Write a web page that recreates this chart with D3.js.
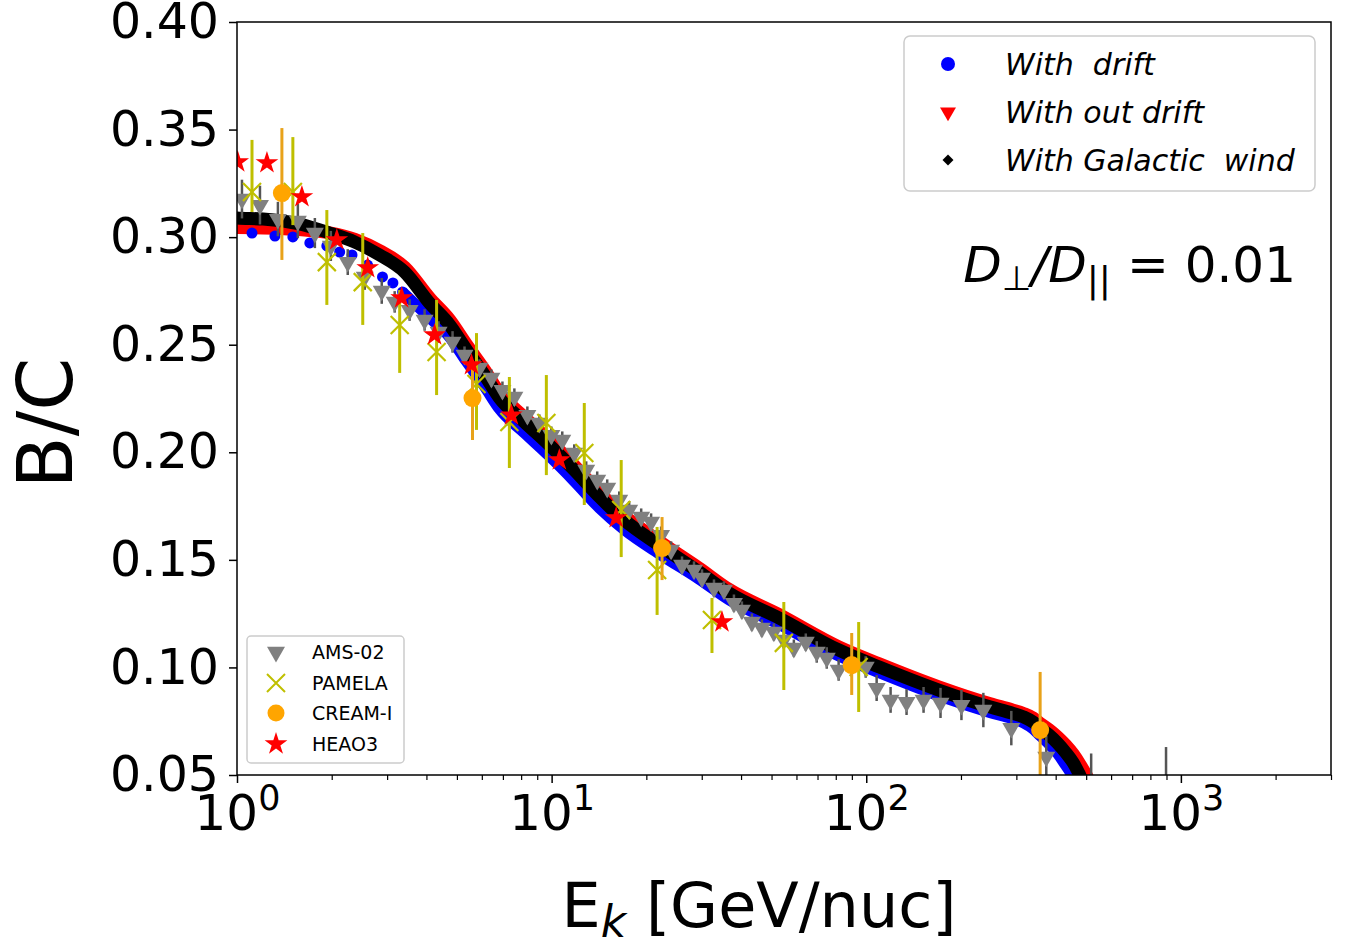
<!DOCTYPE html>
<html>
<head>
<meta charset="utf-8">
<script src="https://cdn.jsdelivr.net/npm/d3@7"></script>
<style>
  body { margin: 0; background: #fff; }
  text { font-family: "DejaVu Sans", sans-serif; }
</style>
</head>
<body>
<div id="chart"></div>
<script>
  // ---- model curves ----
  var blackE = [0.98, 1.0, 1.21, 1.58, 1.97, 2.37, 2.84, 3.41, 4.09, 4.74, 5.37, 6.12, 6.83, 8.19, 9.83, 11.8, 14.2, 17.0, 22.4, 29.4, 36.6, 52.8, 81.8, 110, 170, 248, 290, 316, 340, 357, 380, 405, 430, 455, 475, 495];
  var blackV = [0.3090, 0.3089, 0.3084, 0.3061, 0.3019, 0.2977, 0.2917, 0.2838, 0.2694, 0.2592, 0.2475, 0.2359, 0.2252, 0.2141, 0.2034, 0.1918, 0.1792, 0.1685, 0.1560, 0.1444, 0.1346, 0.1230, 0.1081, 0.1002, 0.0895, 0.0816, 0.0788, 0.0770, 0.0745, 0.0718, 0.0687, 0.0649, 0.0605, 0.0556, 0.0505, 0.0445];

  var redE = [0.98, 1.0, 1.21, 1.58, 1.97, 2.37, 2.84, 3.41, 4.09, 4.74, 5.37, 6.12, 6.83, 8.19, 9.83, 11.8, 14.2, 17.0, 22.4, 29.4, 36.6, 52.8, 81.8, 110, 170, 248, 290, 316, 340, 357, 380, 405, 430, 455, 480, 500, 520];
  var redV = [0.3045, 0.3045, 0.3043, 0.3035, 0.3020, 0.2990, 0.2937, 0.2860, 0.2718, 0.2616, 0.2500, 0.2383, 0.2276, 0.2163, 0.2055, 0.1938, 0.1812, 0.1705, 0.1578, 0.1462, 0.1363, 0.1246, 0.1096, 0.1017, 0.0910, 0.0831, 0.0803, 0.0786, 0.0764, 0.0740, 0.0712, 0.0678, 0.0640, 0.0597, 0.0545, 0.0500, 0.0445];

  // blue: separate dots at low energy, then a dense band
  var blueDotE = [1.116, 1.32, 1.505, 1.704, 1.93, 2.12, 2.32, 2.60, 2.90, 3.13, 3.36];
  var blueDotV = [0.3019, 0.3005, 0.3001, 0.2973, 0.2959, 0.2931, 0.2917, 0.2870, 0.2815, 0.2787, 0.2745];
  var blueE = [3.36, 4.09, 4.74, 5.37, 6.12, 6.83, 8.19, 9.83, 11.8, 14.2, 17.0, 22.4, 29.4, 36.6, 52.8, 81.8, 110, 170, 248, 290, 316, 340, 357, 380, 405, 430, 450, 470];
  var blueV = [0.2745, 0.2625, 0.2535, 0.2420, 0.2305, 0.2200, 0.2090, 0.1982, 0.1865, 0.1740, 0.1640, 0.1520, 0.1410, 0.1314, 0.1200, 0.1053, 0.0975, 0.0868, 0.0790, 0.0762, 0.0742, 0.0712, 0.0682, 0.0645, 0.0600, 0.0545, 0.0500, 0.0445];

  // ---- measurements ----
  var amsE = [1.037, 1.183, 1.349, 1.561, 1.768, 1.987, 2.249, 2.547, 2.884, 3.171, 3.537, 3.947, 4.372, 4.843, 5.286, 5.898, 6.437, 6.977, 7.614, 8.374, 9.141, 9.98, 10.81, 11.80, 12.88, 13.96, 15.02, 16.40, 17.64, 19.26, 20.71, 22.28, 23.97, 25.97, 28.35, 30.06, 32.81, 35.30, 37.97, 40.25, 43.30, 46.59, 50.86, 54.70, 58.87, 64.24, 69.6, 74.9, 81.7, 99.6, 107.9, 119.5, 134.3, 152.1, 172.2, 200.7, 235.6, 289.1, 373.4, 518.6, 897];
  var amsV = [0.3177, 0.3149, 0.3084, 0.3075, 0.3019, 0.2959, 0.2884, 0.2815, 0.2750, 0.2699, 0.2661, 0.2615, 0.2559, 0.2513, 0.2452, 0.2392, 0.2345, 0.2289, 0.2257, 0.2173, 0.2136, 0.2080, 0.2057, 0.1997, 0.1918, 0.1871, 0.1834, 0.1778, 0.1732, 0.1699, 0.1676, 0.1615, 0.1546, 0.1476, 0.1453, 0.1416, 0.1369, 0.1360, 0.1299, 0.1267, 0.1211, 0.1183, 0.1165, 0.1128, 0.1090, 0.1118, 0.1072, 0.1044, 0.0988, 0.1002, 0.0904, 0.0849, 0.0839, 0.0849, 0.0835, 0.0825, 0.0802, 0.0718, 0.0584, 0.0470, 0.0470];
  var amsErr = [0.009, 0.009, 0.008, 0.008, 0.007, 0.007, 0.006, 0.006, 0.006, 0.005,
                0.005, 0.005, 0.005, 0.005, 0.004, 0.004, 0.004, 0.004, 0.004, 0.004,
                0.004, 0.004, 0.004, 0.004, 0.004, 0.004, 0.004, 0.004, 0.004, 0.004,
                0.004, 0.004, 0.004, 0.004, 0.004, 0.004, 0.004, 0.004, 0.004, 0.004,
                0.004, 0.004, 0.004, 0.004, 0.004, 0.004, 0.005, 0.005, 0.005, 0.005,
                0.006, 0.006, 0.006, 0.006, 0.007, 0.007, 0.008, 0.008, 0.010, 0.013, 0.016];

  var pamE  = [1.116, 1.505, 1.930, 2.510, 3.289, 4.309, 5.770, 7.340, 9.621, 12.70, 16.64, 21.64, 32.33, 54.70, 94.6];
  var pamV  = [0.3210, 0.3210, 0.2884, 0.2791, 0.2592, 0.2466, 0.2317, 0.2141, 0.2136, 0.1997, 0.1732, 0.1453, 0.1220, 0.1114, 0.1002];
  var pamHi = [0.3452, 0.3465, 0.3126, 0.3019, 0.2754, 0.2708, 0.2554, 0.2350, 0.2359, 0.2229, 0.1964, 0.1653, 0.1323, 0.1304, 0.1211];
  var pamLo = [0.3117, 0.3056, 0.2685, 0.2592, 0.2369, 0.2266, 0.2104, 0.1927, 0.1894, 0.1755, 0.1513, 0.1244, 0.1067, 0.0895, 0.0793];

  var creamE  = [1.389, 5.604, 22.44, 89.9, 357];
  var creamV  = [0.3205, 0.2252, 0.1555, 0.1011, 0.0709];
  var creamHi = [0.3507, 0.2429, 0.1699, 0.1160, 0.0979];
  var creamLo = [0.2894, 0.2057, 0.1406, 0.0872, 0.0400];

  var heaoE = [1.005, 1.245, 1.608, 2.076, 2.603, 3.337, 4.246, 5.563, 7.451, 10.58, 16.04, 34.78];
  var heaoV = [0.3349, 0.3345, 0.3187, 0.2987, 0.2857, 0.2717, 0.2545, 0.2406, 0.2173, 0.1964, 0.1695, 0.1211];

  // ---- axes ----
  var yTicks = [0.05, 0.10, 0.15, 0.20, 0.25, 0.30, 0.35, 0.40];
  var xMajor = [1, 10, 100, 1000];
  var xExp = ["0", "1", "2", "3"];

  var modelNames = ["With  drift", "With out drift", "With Galactic  wind"];
  var dataNames = ["AMS-02", "PAMELA", "CREAM-I", "HEAO3"];

  var width = 1355, height = 938;
  var pLeft = 237, pRight = 1331, pTop = 22, pBottom = 775;

  var svg = d3.select("#chart").append("svg")
      .attr("width", width)
      .attr("height", height);

  var x = d3.scaleLog().domain([1, 3000]).range([pLeft, pRight]);
  var y = d3.scaleLinear().domain([0.05, 0.40]).range([pBottom, pTop]);

  svg.append("clipPath").attr("id", "plot")
    .append("rect")
      .attr("x", pLeft).attr("y", pTop)
      .attr("width", pRight - pLeft).attr("height", pBottom - pTop);

  var plot = svg.append("g").attr("clip-path", "url(#plot)");

  var line = d3.line()
      .x(function(d) { return x(d[0]); })
      .y(function(d) { return y(d[1]); })
      .curve(d3.curveMonotoneX);

  // model bands
  plot.append("path").datum(d3.zip(redE, redV))
      .attr("d", line).attr("fill", "none")
      .attr("stroke", "#ff0000").attr("stroke-width", 13);

  plot.append("path").datum(d3.zip(blueE, blueV))
      .attr("d", line).attr("fill", "none")
      .attr("stroke", "#0000ff").attr("stroke-width", 11);

  plot.selectAll(".bdot").data(d3.zip(blueDotE, blueDotV)).enter()
    .append("circle")
      .attr("cx", function(d) { return x(d[0]); })
      .attr("cy", function(d) { return y(d[1]); })
      .attr("r", 5.5)
      .attr("fill", "#0000ff");

  plot.append("path").datum(d3.zip(blackE, blackV))
      .attr("d", line).attr("fill", "none")
      .attr("stroke", "#000").attr("stroke-width", 13);

  // AMS-02
  var ams = d3.range(amsE.length).map(function(i) { return [amsE[i], amsV[i], amsErr[i]]; });
  plot.selectAll(".amsbar").data(ams).enter()
    .append("line")
      .attr("x1", function(d) { return x(d[0]); })
      .attr("x2", function(d) { return x(d[0]); })
      .attr("y1", function(d) { return y(d[1] - d[2]); })
      .attr("y2", function(d) { return y(d[1] + d[2]); })
      .attr("stroke", "#555").attr("stroke-width", 2.5);

  var tri = d3.symbol().type(d3.symbolTriangle).size(140);
  plot.selectAll(".ams").data(ams).enter()
    .append("path")
      .attr("d", tri)
      .attr("transform", function(d) { return "translate(" + x(d[0]) + "," + y(d[1]) + ") rotate(180)"; })
      .attr("fill", "#808080");

  // PAMELA
  var pam = d3.range(pamE.length).map(function(i) { return [pamE[i], pamV[i], pamLo[i], pamHi[i]]; });
  plot.selectAll(".pambar").data(pam).enter()
    .append("line")
      .attr("x1", function(d) { return x(d[0]); })
      .attr("x2", function(d) { return x(d[0]); })
      .attr("y1", function(d) { return y(d[2]); })
      .attr("y2", function(d) { return y(d[3]); })
      .attr("stroke", "#bfbf00").attr("stroke-width", 3);

  var cross = "M-9,-9L9,9M-9,9L9,-9";
  plot.selectAll(".pam").data(pam).enter()
    .append("path")
      .attr("d", cross)
      .attr("transform", function(d) { return "translate(" + x(d[0]) + "," + y(d[1]) + ")"; })
      .attr("stroke", "#bfbf00").attr("stroke-width", 2.2).attr("fill", "none");

  // CREAM-I
  var cream = d3.range(creamE.length).map(function(i) { return [creamE[i], creamV[i], creamLo[i], creamHi[i]]; });
  plot.selectAll(".crbar").data(cream).enter()
    .append("line")
      .attr("x1", function(d) { return x(d[0]); })
      .attr("x2", function(d) { return x(d[0]); })
      .attr("y1", function(d) { return y(d[2]); })
      .attr("y2", function(d) { return y(d[3]); })
      .attr("stroke", "#e8a21a").attr("stroke-width", 3);

  plot.selectAll(".cr").data(cream).enter()
    .append("circle")
      .attr("cx", function(d) { return x(d[0]); })
      .attr("cy", function(d) { return y(d[1]); })
      .attr("r", 9)
      .attr("fill", "#ffa500");

  // HEAO3
  var star = d3.symbol().type(d3.symbolStar).size(160);
  plot.selectAll(".heao").data(d3.zip(heaoE, heaoV)).enter()
    .append("path")
      .attr("d", star)
      .attr("transform", function(d) { return "translate(" + x(d[0]) + "," + y(d[1]) + ")"; })
      .attr("fill", "#ff0000");

  // frame
  svg.append("rect")
      .attr("x", pLeft).attr("y", pTop)
      .attr("width", pRight - pLeft).attr("height", pBottom - pTop)
      .attr("fill", "none").attr("stroke", "#000").attr("stroke-width", 1.5);

  // y axis
  var yAxis = svg.append("g").attr("transform", "translate(" + pLeft + ",0)")
      .call(d3.axisLeft(y).tickValues(yTicks).tickFormat(d3.format(".2f")).tickSize(8).tickPadding(10));
  yAxis.select(".domain").remove();
  yAxis.selectAll(".tick line").attr("stroke-width", 1.5);
  yAxis.selectAll("text")
      .attr("font-family", "DejaVu Sans").attr("font-size", 49).attr("fill", "#000");

  // x axis: minor then major ticks
  var minor = x.ticks().filter(function(t) { return xMajor.indexOf(t) < 0; });
  var xMinorAxis = svg.append("g").attr("transform", "translate(0," + pBottom + ")")
      .call(d3.axisBottom(x).tickValues(minor).tickFormat("").tickSize(5));
  xMinorAxis.select(".domain").remove();
  xMinorAxis.selectAll(".tick line").attr("stroke-width", 1.2);

  var xAxis = svg.append("g").attr("transform", "translate(0," + pBottom + ")")
      .call(d3.axisBottom(x).tickValues(xMajor).tickFormat("").tickSize(8));
  xAxis.select(".domain").remove();
  xAxis.selectAll(".tick line").attr("stroke-width", 1.5);
  xAxis.selectAll(".tick").each(function(d, i) {
    var t = d3.select(this).append("text")
        .attr("y", 55).attr("text-anchor", "middle")
        .attr("font-family", "DejaVu Sans").attr("font-size", 50).attr("fill", "#000");
    t.append("tspan").text("10");
    t.append("tspan").attr("font-size", 35).attr("dy", -20).text(xExp[i]);
  });

  // axis labels
  var xl = svg.append("text")
      .attr("x", 759).attr("y", 927)
      .attr("text-anchor", "middle").attr("font-size", 62);
  xl.append("tspan").text("E");
  xl.append("tspan").attr("font-size", 44).attr("font-style", "italic").attr("dy", 10).text("k");
  xl.append("tspan").attr("dy", -10).style("white-space", "pre").text(" [GeV/nuc]");

  svg.append("text")
      .attr("transform", "translate(72,423) rotate(-90)")
      .attr("text-anchor", "middle").attr("font-size", 76)
      .text("B/C");

  // annotation
  var ann = svg.append("text")
      .attr("x", 1296).attr("y", 282)
      .attr("text-anchor", "end").attr("font-size", 50);
  ann.append("tspan").attr("font-style", "italic").text("D");
  ann.append("tspan").attr("font-size", 34).attr("dy", 8).text("\u22A5");
  ann.append("tspan").attr("font-style", "italic").attr("dy", -8).text("/D");
  ann.append("tspan").attr("font-size", 36).attr("dy", 10).text("||");
  ann.append("tspan").attr("dy", -10).style("white-space", "pre").text(" = 0.01");

  // legend: models
  svg.append("rect")
      .attr("x", 904).attr("y", 36).attr("width", 411).attr("height", 155).attr("rx", 6)
      .attr("fill", "#fff").attr("stroke", "#cccccc").attr("stroke-width", 1.5);
  var rowsA = [64, 112, 160];
  var lgA = svg.selectAll(".lga").data(modelNames).enter().append("g")
      .attr("transform", function(d, i) { return "translate(948," + rowsA[i] + ")"; });
  lgA.each(function(d, i) {
    var g = d3.select(this);
    if (i == 0) {
      g.append("circle").attr("r", 7).attr("fill", "#0000ff");
    } else if (i == 1) {
      g.append("path").attr("d", d3.symbol().type(d3.symbolTriangle).size(110)).attr("transform", "rotate(180)").attr("fill", "#ff0000");
    } else {
      g.append("path").attr("d", d3.symbol().type(d3.symbolSquare).size(60)).attr("transform", "rotate(45)").attr("fill", "#000");
    }
    g.append("text").attr("x", 57).attr("y", 11)
        .attr("font-size", 30).attr("font-style", "italic")
        .style("white-space", "pre").text(d);
  });

  // legend: data
  svg.append("rect")
      .attr("x", 247).attr("y", 636).attr("width", 157).attr("height", 127).attr("rx", 4)
      .attr("fill", "#fff").attr("stroke", "#cccccc").attr("stroke-width", 1.5);
  var rowsB = [652, 683, 713, 744];
  var lgB = svg.selectAll(".lgb").data(dataNames).enter().append("g")
      .attr("transform", function(d, i) { return "translate(276," + rowsB[i] + ")"; });
  lgB.each(function(d, i) {
    var g = d3.select(this);
    if (i == 0) {
      g.append("path").attr("d", tri).attr("transform", "rotate(180)").attr("fill", "#808080");
    } else if (i == 1) {
      g.append("path").attr("d", cross).attr("stroke", "#bfbf00").attr("stroke-width", 2);
    } else if (i == 2) {
      g.append("circle").attr("r", 8.5).attr("fill", "#ffa500");
    } else {
      g.append("path").attr("d", star).attr("fill", "#ff0000");
    }
    g.append("text").attr("x", 36).attr("y", 7).attr("font-size", 19).text(d);
  });
</script>
</body>
</html>
